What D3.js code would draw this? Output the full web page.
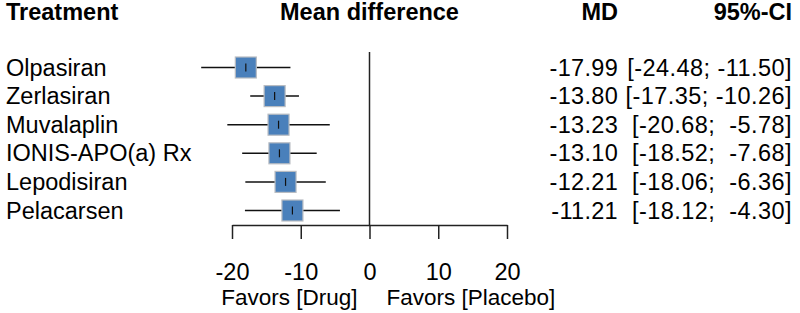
<!DOCTYPE html>
<html>
<head>
<meta charset="utf-8">
<script src="https://cdn.jsdelivr.net/npm/d3@7"></script>
<style>
  body { margin: 0; background: #fff; }
  text { font-family: "Liberation Sans", Arial, sans-serif; fill: #000; }
</style>
</head>
<body>
<svg id="chart"></svg>
<script>
const treatments = ["Olpasiran", "Zerlasiran", "Muvalaplin", "IONIS-APO(a) Rx", "Lepodisiran", "Pelacarsen"];
const md = [-17.99, -13.80, -13.23, -13.10, -12.21, -11.21];
const lower = [-24.48, -17.35, -20.68, -18.52, -18.06, -18.12];
const upper = [-11.50, -10.26, -5.78, -7.68, -6.36, -4.30];
const xTicks = [-20, -10, 0, 10, 20];

const width = 800, height = 313;
const fontSize = 23.5;

const svg = d3.select("#chart")
  .attr("width", width)
  .attr("height", height);

const data = treatments.map((t, i) => ({ name: t, md: md[i], lo: lower[i], hi: upper[i] }));

const x = d3.scaleLinear()
  .domain([-20, 20])
  .range([232, 507]);

const y = d3.scalePoint()
  .domain(treatments)
  .range([67.5, 210.5]);

// plain hyphen minus like the R output
const fmt = v => v.toFixed(2);
const pad = v => (fmt(v).length < 6 ? " " : "") + fmt(v);

// headers
svg.append("text").attr("x", 6).attr("y", 20)
  .style("font-size", fontSize + "px").style("font-weight", "bold")
  .text("Treatment");
svg.append("text").attr("x", x(0)).attr("y", 20)
  .attr("text-anchor", "middle")
  .style("font-size", fontSize + "px").style("font-weight", "bold")
  .text("Mean difference");
svg.append("text").attr("x", 618).attr("y", 20)
  .attr("text-anchor", "end")
  .style("font-size", fontSize + "px").style("font-weight", "bold")
  .text("MD");
svg.append("text").attr("x", 792).attr("y", 20)
  .attr("text-anchor", "end")
  .style("font-size", fontSize + "px").style("font-weight", "bold")
  .text("95%-CI");

// zero line
svg.append("line")
  .attr("x1", x(0)).attr("x2", x(0))
  .attr("y1", 52).attr("y2", 225)
  .attr("stroke", "#222").attr("stroke-width", 1.5);

// axis
const axis = svg.append("g")
  .attr("transform", "translate(0,225)")
  .call(d3.axisBottom(x).tickValues(xTicks).tickFormat(d => String(d))
    .tickSize(14).tickSizeOuter(0).tickPadding(24));
axis.select(".domain").attr("stroke", "#222").attr("stroke-width", 1.5);
axis.selectAll(".tick line").attr("stroke", "#222").attr("stroke-width", 1.5);
axis.selectAll(".tick text")
  .attr("fill", "#000")
  .style("font-family", "Liberation Sans, Arial, sans-serif")
  .style("font-size", fontSize + "px");

svg.append("text").attr("x", x(0) - 12).attr("y", 305)
  .attr("text-anchor", "end")
  .style("font-size", "22.5px")
  .text("Favors [Drug]");
svg.append("text").attr("x", x(0) + 17).attr("y", 305)
  .style("font-size", "22.5px")
  .text("Favors [Placebo]");

// rows
const rows = svg.selectAll(".row")
  .data(data)
  .enter()
  .append("g")
  .attr("class", "row");

rows.append("line")
  .attr("x1", d => x(d.lo)).attr("x2", d => x(d.hi))
  .attr("y1", d => y(d.name)).attr("y2", d => y(d.name))
  .attr("stroke", "#111").attr("stroke-width", 1.5);

rows.append("rect")
  .attr("x", d => x(d.md) - 10.5)
  .attr("y", d => y(d.name) - 10.5)
  .attr("width", 21).attr("height", 21)
  .attr("fill", "#4a80bb")
  .attr("stroke", "#b8bcc2").attr("stroke-width", 1.2);

rows.append("line")
  .attr("x1", d => x(d.md)).attr("x2", d => x(d.md))
  .attr("y1", d => y(d.name) - 4).attr("y2", d => y(d.name) + 4)
  .attr("stroke", "#111").attr("stroke-width", 1.2);

rows.append("text")
  .attr("x", 6).attr("y", d => y(d.name) + 8)
  .style("font-size", fontSize + "px")
  .text(d => d.name);

rows.append("text")
  .attr("x", 618).attr("y", d => y(d.name) + 8)
  .attr("text-anchor", "end")
  .style("font-size", fontSize + "px")
  .style("letter-spacing", "0.3px")
  .text(d => fmt(d.md));

rows.append("text")
  .attr("x", 792).attr("y", d => y(d.name) + 8)
  .attr("text-anchor", "end")
  .attr("xml:space", "preserve")
  .style("white-space", "pre")
  .style("font-size", fontSize + "px")
  .style("letter-spacing", "0.45px")
  .text(d => `[${fmt(d.lo)}; ${pad(d.hi)}]`);
</script>
</body>
</html>
